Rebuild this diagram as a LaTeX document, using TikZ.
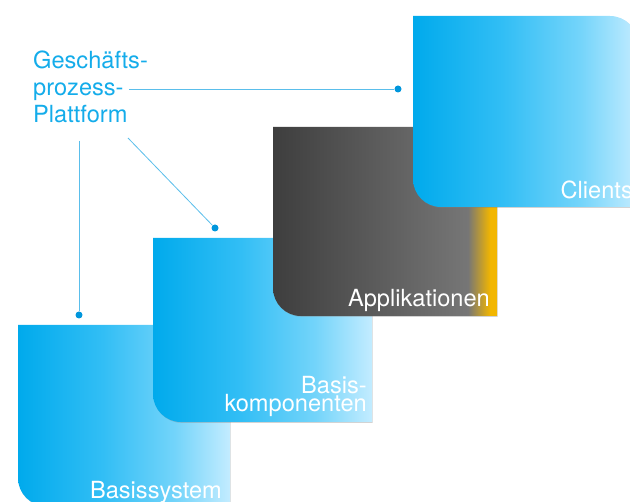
\documentclass[tikz,border=0pt]{standalone}
\usepackage{fontspec}
\setmainfont{TeX Gyre Heros}
\usetikzlibrary{shadows}

\definecolor{blau1}{RGB}{0,170,236}
\definecolor{blau2}{RGB}{50,190,245}
\definecolor{blau3}{RGB}{115,212,250}
\definecolor{blau4}{RGB}{195,236,255}
\definecolor{grau1}{RGB}{62,62,62}
\definecolor{grau2}{RGB}{118,118,118}
\definecolor{gelb}{RGB}{242,182,0}
\definecolor{schrift}{RGB}{20,172,234}
\definecolor{linie}{RGB}{90,190,235}
\definecolor{punkt}{RGB}{0,150,220}

\pgfdeclarehorizontalshading{blauverlauf}{100bp}{color(0bp)=(blau1); color(25bp)=(blau1); color(45bp)=(blau2); color(62bp)=(blau3); color(75bp)=(blau4); color(100bp)=(blau4)}
\pgfdeclarehorizontalshading{grauverlauf}{100bp}{color(0bp)=(grau1); color(25bp)=(grau1); color(68.5bp)=(grau2); color(73.5bp)=(gelb); color(75bp)=(gelb); color(100bp)=(gelb)}

% Schicht: Name, x0, y0, x1, y1, Verlauf
\newcommand{\schicht}[6]{%
	\path[shading=#6, drop shadow={shadow xshift=0.6pt, shadow yshift=-0.8pt, opacity=0.35}]
		(#2,#3) -- (#4-28,#3) arc[start angle=-90, end angle=0, radius=28]
		-- (#4,#5) -- (#2+28,#5) arc[start angle=90, end angle=180, radius=28] -- cycle;
	\coordinate (#1) at (#4-6,#5-8);
}

\begin{document}
\begin{tikzpicture}[x=1pt, y=-1pt,
	titel/.style={font=\fontsize{23.6}{27}\selectfont, text=white, inner sep=0pt},
	punktnode/.style={circle, fill=punkt, inner sep=0pt, minimum size=7pt},
	verbindung/.style={draw=linie, line width=0.8pt}]
	\useasboundingbox (0,0) rectangle (630,502);
	\clip (0,0) rectangle (630,502);

	\schicht{sys}{18}{325}{230}{506}{blauverlauf}
	\schicht{komp}{153}{238}{372}{422}{blauverlauf}
	\schicht{app}{273}{127}{497}{316}{grauverlauf}
	\schicht{cli}{413}{16}{638}{207}{blauverlauf}

	\node[titel, anchor=base east] (tsys) at (222,499) {Basissystem};
	\node[titel, anchor=base east, align=right, font=\fontsize{23.6}{18.5}\selectfont] (tkomp) at (367,412) {Basis-\\komponenten};
	\node[titel, anchor=base east] (tapp) at (490,307) {Applikationen};
	\node[titel, anchor=base east] (tcli) at (633,199) {Clients};

	\node[anchor=north west, align=left, inner sep=0pt, text=schrift, font=\fontsize{23.6}{27}\selectfont] (gpp) at (33,51) {Gesch\"afts-\\prozess-\\Plattform};

	\node[punktnode] (p1) at (398,89) {};
	\node[punktnode] (p2) at (215,228) {};
	\node[punktnode] (p3) at (79,315) {};
	\coordinate (a1) at (129,89);
	\coordinate (a2) at (128,138);
	\coordinate (a3) at (79,141);
	\draw[verbindung] (a1) -- (p1);
	\draw[verbindung] (a2) -- (p2);
	\draw[verbindung] (a3) -- (p3);
\end{tikzpicture}
\end{document}
